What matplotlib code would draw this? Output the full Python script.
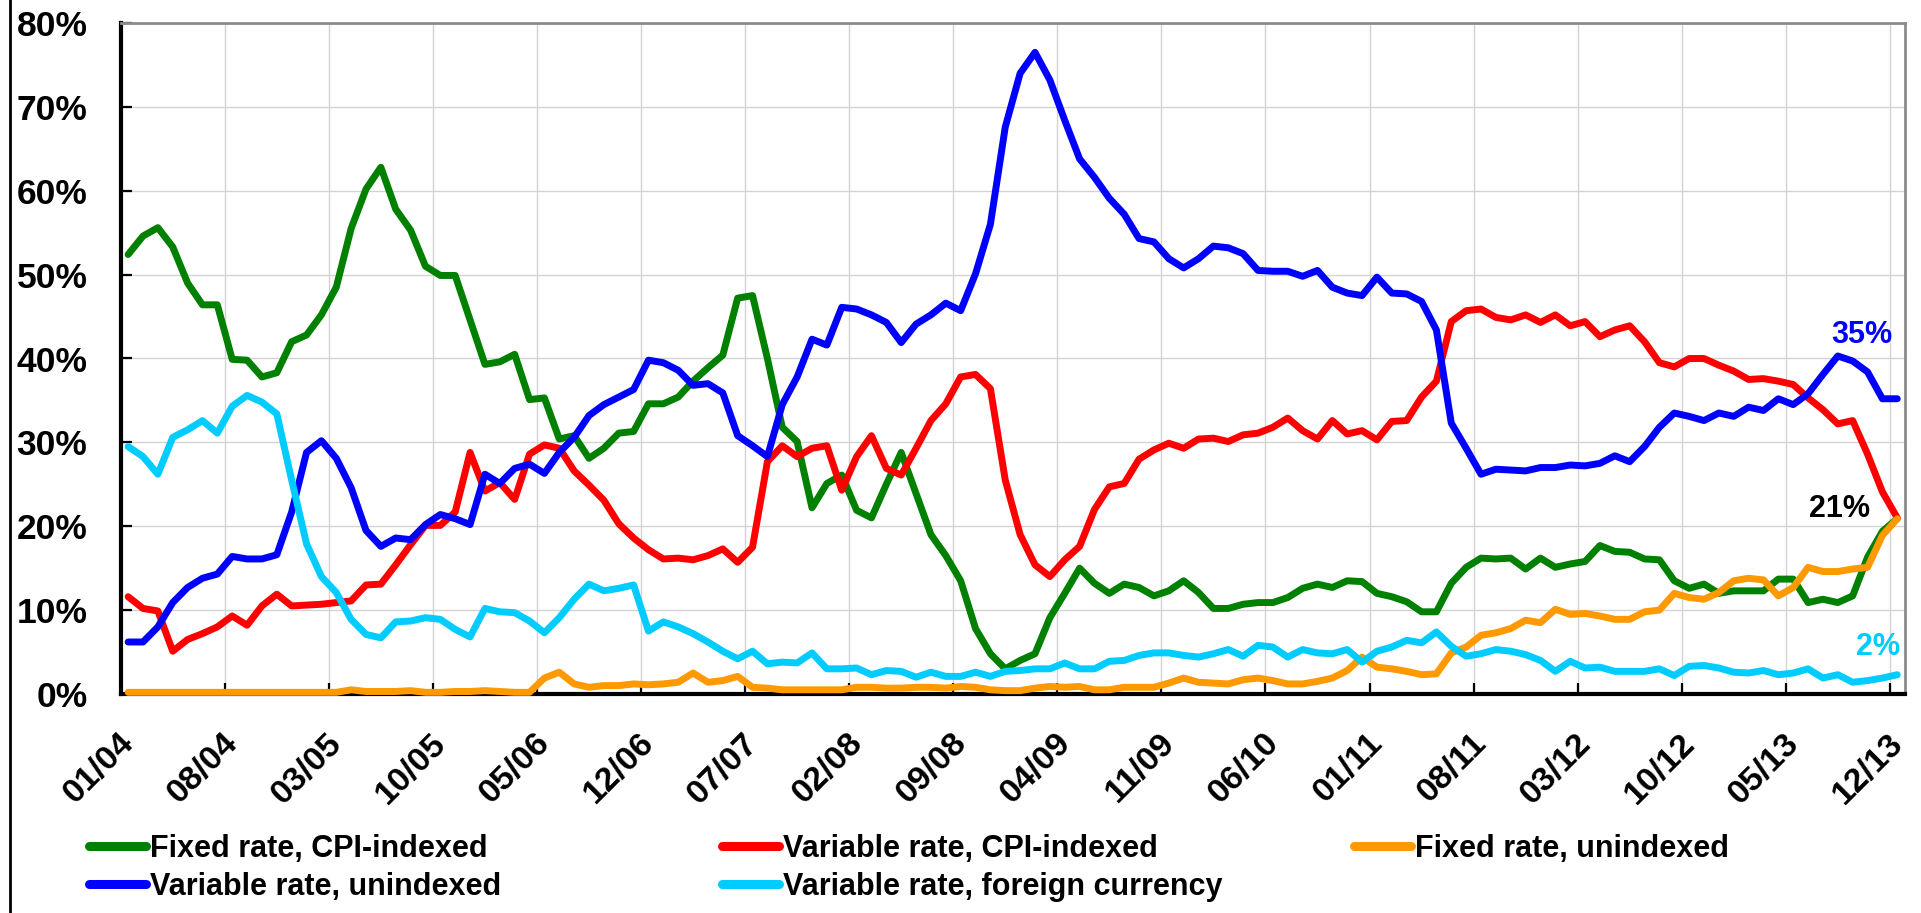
import matplotlib
matplotlib.use("Agg")
import matplotlib.pyplot as plt
import matplotlib.transforms as mtransforms
from matplotlib.lines import Line2D
from matplotlib.ticker import PercentFormatter

plt.rcParams['font.family'] = ['Liberation Sans', 'DejaVu Sans']
plt.rcParams['font.weight'] = 'bold'

# ---- data (monthly, 01/2004 .. 12/2013), percent of total ----
months = [f"{m:02d}/{y:02d}" for y in range(4, 14) for m in range(1, 13)]

fixed_cpi = [52.4, 54.6, 55.6, 53.3, 49.0, 46.4, 46.4, 39.9, 39.8, 37.8, 38.3, 42.0, 42.8, 45.2, 48.5, 55.5, 60.2, 62.8, 57.8, 55.3,
             51.0, 49.9, 49.9, 44.6, 39.3, 39.6, 40.5, 35.1, 35.3, 30.4, 30.8, 28.1, 29.3, 31.1, 31.3, 34.6, 34.6, 35.4, 37.3, 38.9, 40.4, 47.2,
             47.5, 40.0, 31.8, 30.1, 22.2, 25.1, 26.1, 21.9, 21.0, 25.0, 28.8, 23.9, 19.0, 16.5, 13.5, 7.8, 4.8, 3.0, 4.0, 4.8, 9.1, 12.0,
             15.0, 13.2, 12.0, 13.1, 12.7, 11.7, 12.3, 13.5, 12.1, 10.2, 10.2, 10.7, 10.9, 10.9, 11.5, 12.6, 13.1, 12.7, 13.5, 13.4, 12.0,
             11.6, 11.0, 9.8, 9.8, 13.2, 15.1, 16.2, 16.1, 16.2, 14.9, 16.2, 15.1, 15.5, 15.8,
             17.7, 17.0, 16.9, 16.1, 16.0, 13.5, 12.6, 13.1, 12.0, 12.3, 12.3, 12.3, 13.7, 13.7, 10.9, 11.3, 10.9, 11.7, 16.3, 19.4, 20.9]

variable_cpi = [11.6, 10.2, 9.9, 5.1, 6.5, 7.2, 8.0, 9.3, 8.2, 10.5, 11.9, 10.5, 10.6, 10.7, 10.9, 11.1, 13.0, 13.1, 15.4, 17.8,
                20.1, 20.1, 21.7, 28.8, 24.2, 25.2, 23.2, 28.6, 29.7, 29.3, 26.6, 24.9, 23.1, 20.3, 18.6, 17.2, 16.1, 16.2, 16.0, 16.5, 17.3, 15.7,
                17.5, 27.7, 29.6, 28.3, 29.3, 29.6, 24.3, 28.3, 30.8, 26.9, 26.1, 29.3, 32.6, 34.6, 37.8, 38.1, 36.4, 25.5, 19.0, 15.4, 14.0, 16.0,
                17.6, 22.0, 24.7, 25.1, 28.0, 29.1, 29.9, 29.3, 30.4, 30.5, 30.1, 30.9, 31.1, 31.8, 32.9, 31.4, 30.4, 32.6, 31.0, 31.4, 30.3,
                32.5, 32.6, 35.4, 37.3, 44.4, 45.7, 45.9, 44.9, 44.6, 45.2, 44.3, 45.2, 43.9, 44.4,
                42.6, 43.4, 43.9, 42.0, 39.5, 39.0, 40.0, 40.0, 39.2, 38.5, 37.5, 37.6, 37.3, 36.9, 35.3, 33.9, 32.2, 32.6, 28.6, 24.1, 21.0]

fixed_unindexed = [0.2, 0.2, 0.2, 0.2, 0.2, 0.2, 0.2, 0.2, 0.2, 0.2, 0.2, 0.2, 0.2, 0.2, 0.2, 0.5, 0.3, 0.3, 0.3, 0.4,
                   0.2, 0.2, 0.3, 0.3, 0.4, 0.3, 0.2, 0.2, 1.9, 2.6, 1.2, 0.8, 1.0, 1.0, 1.2, 1.1, 1.2, 1.4, 2.5, 1.4, 1.6, 2.1,
                   0.8, 0.7, 0.5, 0.5, 0.5, 0.5, 0.5, 0.8, 0.8, 0.7, 0.7, 0.8, 0.8, 0.7, 0.9, 0.8, 0.5, 0.4, 0.4, 0.7, 0.9, 0.8,
                   0.9, 0.5, 0.5, 0.8, 0.8, 0.8, 1.3, 1.9, 1.4, 1.3, 1.2, 1.7, 1.9, 1.6, 1.2, 1.2, 1.5, 1.9, 2.8, 4.4, 3.2,
                   3.0, 2.7, 2.3, 2.4, 4.9, 5.6, 7.0, 7.3, 7.8, 8.8, 8.5, 10.1, 9.5, 9.6,
                   9.3, 8.9, 8.9, 9.8, 10.0, 12.0, 11.5, 11.3, 12.1, 13.5, 13.8, 13.6, 11.7, 12.7, 15.1, 14.6, 14.6, 14.9, 15.1, 18.9, 20.9]

variable_unindexed = [6.2, 6.2, 8.0, 10.9, 12.7, 13.8, 14.3, 16.4, 16.1, 16.1, 16.6, 21.7, 28.8, 30.2, 28.1, 24.6, 19.5, 17.6, 18.6, 18.4,
                      20.2, 21.4, 20.9, 20.2, 26.2, 25.1, 26.9, 27.4, 26.3, 28.8, 30.6, 33.2, 34.5, 35.4, 36.3, 39.8, 39.5, 38.6, 36.8, 37.0, 35.9, 30.8,
                      29.6, 28.3, 34.5, 37.8, 42.3, 41.6, 46.1, 45.9, 45.2, 44.3, 41.9, 44.1, 45.2, 46.6, 45.7, 50.1, 56.0, 67.6, 74.0, 76.5, 73.2, 68.4,
                      63.8, 61.6, 59.1, 57.2, 54.3, 53.9, 51.9, 50.8, 51.9, 53.4, 53.2, 52.5, 50.5, 50.4, 50.4, 49.8, 50.5, 48.5, 47.8, 47.5, 49.7,
                      47.8, 47.7, 46.8, 43.4, 32.3, 29.3, 26.2, 26.8, 26.7, 26.6, 27.0, 27.0, 27.3, 27.2,
                      27.5, 28.4, 27.7, 29.5, 31.8, 33.5, 33.1, 32.6, 33.5, 33.1, 34.2, 33.8, 35.2, 34.5, 35.8, 38.1, 40.3, 39.7, 38.4, 35.2, 35.2]

variable_fx = [29.5, 28.3, 26.2, 30.6, 31.5, 32.6, 31.1, 34.3, 35.6, 34.8, 33.4, 25.5, 17.9, 14.0, 12.1, 8.9, 7.1, 6.7, 8.6, 8.7,
               9.1, 8.9, 7.7, 6.8, 10.2, 9.8, 9.7, 8.7, 7.3, 9.1, 11.3, 13.1, 12.3, 12.6, 13.0, 7.5, 8.6, 8.0, 7.2, 6.2, 5.1, 4.2,
               5.1, 3.6, 3.8, 3.7, 4.9, 3.0, 3.0, 3.1, 2.3, 2.8, 2.7, 2.0, 2.6, 2.1, 2.1, 2.6, 2.1, 2.7, 2.8, 3.0, 3.0, 3.7,
               3.0, 3.0, 3.9, 4.0, 4.6, 4.9, 4.9, 4.6, 4.4, 4.8, 5.3, 4.5, 5.8, 5.6, 4.4, 5.3, 4.9, 4.8, 5.3, 3.8, 5.1,
               5.6, 6.4, 6.1, 7.4, 5.7, 4.5, 4.8, 5.3, 5.1, 4.7, 4.0, 2.7, 3.9, 3.1,
               3.2, 2.7, 2.7, 2.7, 3.0, 2.2, 3.3, 3.4, 3.1, 2.6, 2.5, 2.8, 2.3, 2.5, 3.0, 1.9, 2.3, 1.4, 1.6, 1.9, 2.3]

series_names = ["Fixed rate, CPI-indexed", "Variable rate, CPI-indexed", "Fixed rate, unindexed",
                "Variable rate, unindexed", "Variable rate, foreign currency"]
series_values = [fixed_cpi, variable_cpi, fixed_unindexed, variable_unindexed, variable_fx]
series_colors = ["#008000", "#FF0000", "#FF9900", "#0000FF", "#00CCFF"]

label_step = 7
end_labels = [("35%", "#0000FF", 116.6, 41.8), ("21%", "#000000", 115.1, 21.1), ("2%", "#00CCFF", 117.7, 4.65)]

# ---- figure ----
W, H, DPI = 1921, 913, 100
fig = plt.figure(figsize=(W / DPI, H / DPI), dpi=DPI)
ax = fig.add_axes([120.7 / W, 1 - 694 / H, (1904.7 - 120.7) / W, (694 - 23) / H])

n = len(months)
x = list(range(n))
lines = []
for name, vals, col in zip(series_names, series_values, series_colors):
    ln, = ax.plot(x, vals, color=col, lw=5.0, label=name, solid_joinstyle='round',
                  solid_capstyle='round', zorder=3, clip_on=False)
    lines.append(ln)

ax.set_xlim(-0.5, n - 0.5)
ax.set_ylim(0, 80)

# y axis
ax.set_yticks(range(0, 81, 10))
ax.yaxis.set_major_formatter(PercentFormatter(decimals=0))
ax.tick_params(axis='y', which='major', direction='in', length=8, width=1.6,
               pad=24, labelsize=25.5)
for lbl in ax.get_yticklabels():
    lbl.set_fontweight('bold')
ax.yaxis.grid(True, color='#D3D3D3', lw=1.0, zorder=0)

# x axis: labels at categories, ticks/grid between categories
lab_pos = list(range(0, n, label_step))
ax.set_xticks(lab_pos, [months[i] for i in lab_pos])
ax.set_xticks([p - 0.5 for p in range(label_step, n, label_step)], minor=True)
ax.tick_params(axis='x', which='major', length=0, pad=36.4, labelsize=24.5)
ax.tick_params(axis='x', which='minor', direction='in', length=8, width=1.6)
ax.xaxis.grid(True, which='minor', color='#D3D3D3', lw=1.0, zorder=0)
off = mtransforms.ScaledTranslation(7 / DPI, 0, fig.dpi_scale_trans)
for lbl in ax.get_xticklabels():
    lbl.set(rotation=45, ha='right', va='baseline', rotation_mode='anchor', fontweight='bold')
    lbl.set_transform(lbl.get_transform() + off)

ax.set_axisbelow(True)
for s in ['left', 'bottom']:
    ax.spines[s].set_color('black')
    ax.spines[s].set_linewidth(3.0)
for s in ['top', 'right']:
    ax.spines[s].set_color('#8C8C8C')
    ax.spines[s].set_linewidth(2.0)

# end-of-series value labels
for txt, col, xi, yv in end_labels:
    ax.text(xi, yv, txt, color=col, fontsize=22, fontweight='bold', ha='center', va='baseline', zorder=5)

# legend in three columns (row-major like the original)
leg_kw = dict(frameon=False, fontsize=22, handlelength=1.86, handletextpad=0.13,
              borderpad=0, borderaxespad=0, labelspacing=0.25, prop={'weight': 'bold', 'size': 22})
cols = [([lines[0], lines[3]], 89), ([lines[1], lines[4]], 722), ([lines[2]], 1354)]
for hs, xpx in cols:
    leg = fig.legend(hs, [h.get_label() for h in hs], loc='upper left',
                     bbox_to_anchor=(xpx / W, 1 - 834 / H), **{k: v for k, v in leg_kw.items() if k != 'fontsize'})
    for lh in leg.legend_handles:
        lh.set_linewidth(6.5)
        lh.set_solid_capstyle('round')

# thin outer border line on the left
fig.add_artist(Line2D([10 / W, 10 / W], [0, 1], color='black', lw=2.0, transform=fig.transFigure))

fig.savefig("out.png", dpi=DPI)
